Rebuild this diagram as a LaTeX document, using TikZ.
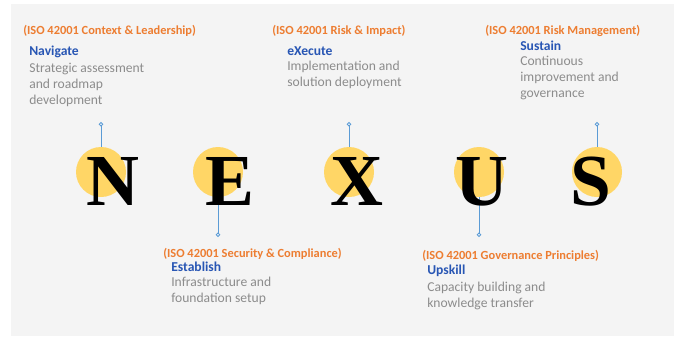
\documentclass[tikz,border=0pt]{standalone}
\usepackage{fontspec}
\setmainfont{Carlito}
\newfontfamily\letterfont{Liberation Serif}
\usepackage{xcolor}
\definecolor{nxOrange}{RGB}{237, 125, 49}
\definecolor{nxBlue}{RGB}{40, 86, 180}
\definecolor{nxGray}{RGB}{140, 140, 140}
\definecolor{nxBack}{RGB}{244, 244, 244}
\definecolor{nxGold}{RGB}{255, 214, 102}
\definecolor{nxLine}{RGB}{91, 155, 213}
\usetikzlibrary{arrows.meta, positioning}

\begin{document}
\begin{tikzpicture}[
    x=0.75pt, y=-0.75pt,
    dot/.style={
        circle, fill=nxGold, draw=none,
        minimum size=37.5pt, inner sep=0pt
    },
    letter/.style={
        font=\letterfont\bfseries\fontsize{55}{55}\selectfont,
        text=black, inner sep=0pt, anchor=base
    },
    phase/.style={
        font=\bfseries\fontsize{9.3}{11}\selectfont,
        text=nxOrange, inner sep=0pt, anchor=base west
    },
    title/.style={
        font=\bfseries\fontsize{10.2}{12}\selectfont,
        text=nxBlue, inner sep=0pt, anchor=base west
    },
    detail/.style={
        font=\fontsize{10.2}{12}\selectfont,
        text=nxGray, align=left, inner sep=0pt
    },
    pin/.style={
        -{Circle[open, fill=white, length=3.4pt]}, line width=0.7pt, draw=nxLine
    }
]

    % Canvas and background panel
    \useasboundingbox (0,0) rectangle (678,337);
    \fill[nxBack] (11,4) rectangle (674,336);

    % Yellow discs
    \node[dot] (dN) at (101,172) {};
    \node[dot] (dE) at (218,172) {};
    \node[dot] (dX) at (349,172) {};
    \node[dot] (dU) at (479,172) {};
    \node[dot] (dS) at (597,172) {};

    % Pin ends
    \coordinate (pN) at (101,122);
    \coordinate (pE) at (218,237);
    \coordinate (pX) at (349,122);
    \coordinate (pU) at (479,237);
    \coordinate (pS) at (597,122);

    \draw[pin] (dN) -- (pN);
    \draw[pin] (dE) -- (pE);
    \draw[pin] (dX) -- (pX);
    \draw[pin] (dU) -- (pU);
    \draw[pin] (dS) -- (pS);

    % Letters
    \node[letter] (lN) at (113,205) {N};
    \node[letter] (lE) at (230,205) {E};
    \node[letter] (lX) at (357,205) {X};
    \node[letter] (lU) at (482,205) {U};
    \node[letter] (lS) at (591,205) {S};

    % Upper text blocks
    \node[phase] (hN) at (23,34.5) {(ISO 42001 Context \& Leadership)};
    \node[title] (tN) at (29,55) {Navigate};
    \node[detail, below right=4pt and 0pt of tN.south west] (bN) {Strategic assessment\\and roadmap\\development};

    \node[phase] (hX) at (272,34.5) {(ISO 42001 Risk \& Impact)};
    \node[title] (tX) at (287,55) {eXecute};
    \node[detail, below right=4pt and 0pt of tX.south west] (bX) {Implementation and\\solution deployment};

    \node[phase] (hS) at (485,34.5) {(ISO 42001 Risk Management)};
    \node[title] (tS) at (520,50) {Sustain};
    \node[detail, below right=4pt and 0pt of tS.south west] (bS) {Continuous\\improvement and\\governance};

    % Lower text blocks
    \node[phase] (hE) at (163,257.5) {(ISO 42001 Security \& Compliance)};
    \node[title] (tE) at (171,271.5) {Establish};
    \node[detail, below right=4pt and 0pt of tE.south west] (bE) {Infrastructure and\\foundation setup};

    \node[phase] (hU) at (422,259.5) {(ISO 42001 Governance Principles)};
    \node[title] (tU) at (427,274) {Upskill};
    \node[detail, below right=4pt and 0pt of tU.south west] (bU) {Capacity building and\\knowledge transfer};

\end{tikzpicture}
\end{document}
